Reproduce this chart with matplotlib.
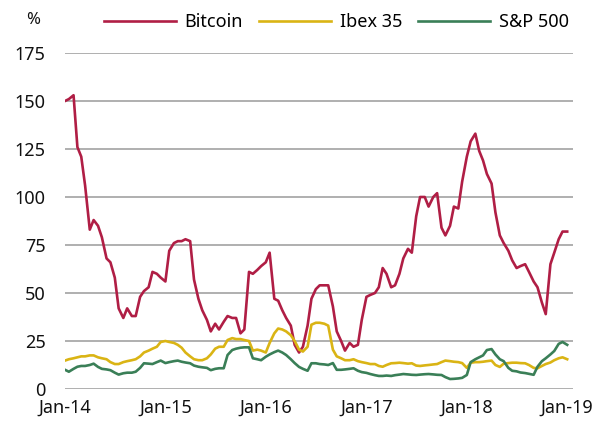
import matplotlib
matplotlib.use("Agg")
import matplotlib.pyplot as plt
import matplotlib.dates as mdates
import pandas as pd

# semi-monthly observations, Jan 2014 - Jan 2019 (annualised volatility, %)
dates = pd.date_range("2014-01-01", periods=121, freq="SMS")

bitcoin = [150, 151, 153, 126, 121, 106, 83, 88, 85, 79,
           68, 66, 58, 42, 37, 42, 38, 38, 48, 51,
           53, 61, 60, 58, 56, 72, 76, 77, 77, 78,
           77, 57, 47, 41, 36, 30, 34, 31, 35, 38,
           37, 37, 29, 31, 61, 60, 62, 64, 66, 71,
           47, 46, 41, 37, 33, 23, 19, 22, 33, 47,
           52, 54, 54, 54, 43, 30, 25, 20, 24, 22,
           23, 36, 48, 49, 50, 53, 63, 60, 53, 54,
           60, 68, 73, 71, 90, 100, 100, 95, 100, 102,
           84, 80, 85, 95, 94, 108, 121, 129, 133, 124,
           119, 112, 107, 92, 80, 76, 72, 67, 63, 64,
           65, 61, 56, 53, 45, 39, 65, 71, 78, 82,
           82]

ibex = [14.8, 15.5, 16, 16.5, 17, 17, 17.5, 17.5, 16.5, 16,
        15.5, 14, 13, 13, 14, 14.5, 15, 15.5, 17, 19,
        20, 21, 22, 24.5, 25, 24.5, 24, 23, 21.5, 19,
        17, 15.5, 15, 15, 16, 18, 21, 22, 22, 25.5,
        26.5, 26, 26, 25.5, 25, 20, 20.5, 20, 19, 24,
        29, 31.5, 31, 30, 28, 25, 20.5, 19.5, 22, 33.5,
        34.5, 34.5, 34, 33, 20.5, 17, 16, 15, 15, 15.5,
        14.5, 14, 13.5, 13, 13, 12, 11.6, 12.5, 13.4, 13.5,
        13.7, 13.5, 13.2, 13.4, 12.2, 12, 12.3, 12.5, 12.8, 13,
        14, 14.8, 14.5, 14.2, 14, 13.5, 11, 13.7, 14, 14,
        14.2, 14.5, 14.8, 12.5, 11.5, 13.2, 13.5, 13.7, 13.7, 13.5,
        13.4, 12.5, 11, 10.8, 12, 13, 13.8, 15, 16, 16.5,
        15.5]

sp500 = [10, 9, 10.5, 11.6, 12, 12, 12.5, 13.2, 11.5, 10.5,
         10.2, 9.8, 8.5, 7.5, 8.2, 8.5, 8.5, 9, 11, 13.4,
         13.2, 13, 14, 14.8, 13.5, 14, 14.5, 14.8, 14.2, 13.8,
         13.4, 12.2, 11.6, 11.3, 11, 9.8, 10.5, 10.8, 10.8, 17.7,
         20.3, 21, 21.5, 21.7, 21.7, 16, 15.5, 15, 16.8, 18,
         19.2, 20, 19, 17.7, 15.5, 13.5, 11.5, 10.5, 9.5, 13.4,
         13.4, 13, 12.8, 12.5, 13.5, 10, 10, 10.2, 10.5, 10.8,
         9.5, 8.8, 8.4, 7.8, 7.2, 6.8, 6.8, 7, 6.8, 7.2,
         7.5, 7.8, 7.6, 7.4, 7.3, 7.5, 7.7, 7.8, 7.6, 7.4,
         7.3, 6.2, 5.2, 5.3, 5.5, 5.8, 7.3, 14, 15.5, 16.5,
         17.5, 20.3, 20.8, 18, 15.5, 14.5, 11, 9.5, 9.2, 8.6,
         8.3, 7.9, 7.4, 11.6, 14.5, 16, 18, 19.8, 23.5, 24.5,
         23]

series = ["Bitcoin", "Ibex 35", "S&P 500"]
colors = ["#b01e45", "#dab414", "#3a7f57"]
yticks = [0, 25, 50, 75, 100, 125, 150, 175]

plt.rcParams["font.family"] = ["Noto Sans", "DejaVu Sans"]

fig = plt.figure(figsize=(6.06, 4.25), dpi=100)
ax = fig.add_axes([0.1073, 0.0847, 0.8382, 0.7906])

for name, vals, c in zip(series, [bitcoin, ibex, sp500], colors):
    ax.plot(dates, vals, color=c, lw=1.9, label=name, zorder=3)

ax.set_ylim(0, 175)
ax.set_yticks(yticks)
ax.set_xlim(pd.Timestamp("2014-01-01"), pd.Timestamp("2019-01-22"))
ax.xaxis.set_major_locator(mdates.YearLocator())
ax.xaxis.set_major_formatter(mdates.DateFormatter("%b-%y"))

ax.grid(axis="y", color="#9a9a9a", lw=1.1, zorder=1)
for sp in ax.spines.values():
    sp.set_visible(False)
ax.tick_params(axis="both", length=0, labelsize=13, colors="#111111")
ax.tick_params(axis="y", pad=14)
ax.tick_params(axis="x", pad=7)

fig.text(0.055, 0.953, "%", fontsize=12, ha="center", va="center", color="#111111")
fig.legend(loc="center", bbox_to_anchor=(0.555, 0.948), ncol=3, frameon=False,
           fontsize=13, handlelength=4, handletextpad=0.45, columnspacing=0.9,
           borderaxespad=0)

fig.savefig("out.png", dpi=100)
